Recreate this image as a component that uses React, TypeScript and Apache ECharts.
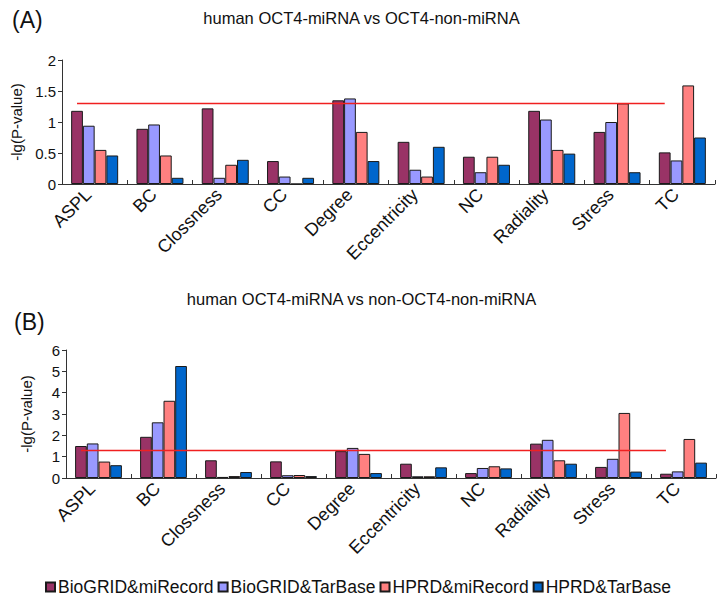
import React, { useEffect, useRef } from 'react';
import * as echarts from 'echarts';

const categories = ['ASPL', 'BC', 'Clossness', 'CC', 'Degree', 'Eccentricity', 'NC', 'Radiality', 'Stress', 'TC'];
const seriesNames = ['BioGRID&miRecord', 'BioGRID&TarBase', 'HPRD&miRecord', 'HPRD&TarBase'];
const seriesColors = ['#993366', '#9999FF', '#FF8080', '#0066CC'];

// Panel A: human OCT4-miRNA vs OCT4-non-miRNA
const aBioGRIDmiRecord = [1.18, 0.89, 1.22, 0.37, 1.35, 0.68, 0.44, 1.18, 0.84, 0.51];
const aBioGRIDTarBase = [0.94, 0.96, 0.10, 0.12, 1.38, 0.23, 0.19, 1.04, 1.00, 0.38];
const aHPRDmiRecord = [0.55, 0.46, 0.31, 0, 0.84, 0.12, 0.44, 0.55, 1.30, 1.59];
const aHPRDTarBase = [0.46, 0.10, 0.39, 0.10, 0.37, 0.60, 0.31, 0.49, 0.19, 0.75];

// Panel B: human OCT4-miRNA vs non-OCT4-non-miRNA
const bBioGRIDmiRecord = [1.50, 1.93, 0.83, 0.78, 1.26, 0.67, 0.23, 1.61, 0.52, 0.20];
const bBioGRIDTarBase = [1.62, 2.61, 0.05, 0.13, 1.41, 0.08, 0.47, 1.79, 0.90, 0.31];
const bHPRDmiRecord = [0.77, 3.62, 0.09, 0.14, 1.13, 0.08, 0.55, 0.83, 3.05, 1.83];
const bHPRDTarBase = [0.60, 5.25, 0.28, 0.09, 0.23, 0.50, 0.45, 0.67, 0.30, 0.72];

const threshold = 1.3;
const titleA = 'human OCT4-miRNA vs OCT4-non-miRNA';
const titleB = 'human OCT4-miRNA vs non-OCT4-non-miRNA';
const yAxisName = '-lg(P-value)';
const yAxisA = { min: 0, max: 2, interval: 0.5 };
const yAxisB = { min: 0, max: 6, interval: 1 };

const FONT = "'Liberation Sans', Arial, sans-serif";
const TXT = '#111';

export default function App() {
  const ref = useRef<HTMLDivElement>(null);

  useEffect(() => {
    if (!ref.current) return;
    const chart = echarts.init(ref.current, undefined, { renderer: 'svg' });

    const panelData = [
      [aBioGRIDmiRecord, aBioGRIDTarBase, aHPRDmiRecord, aHPRDTarBase],
      [bBioGRIDmiRecord, bBioGRIDTarBase, bHPRDmiRecord, bHPRDTarBase],
    ];

    const series: any[] = [];
    panelData.forEach((panel, g) => {
      panel.forEach((values, i) => {
        const s: any = {
          type: 'bar',
          name: seriesNames[i],
          xAxisIndex: g,
          yAxisIndex: g,
          data: values,
          barGap: '0%',
          barCategoryGap: '28%',
          itemStyle: { color: seriesColors[i], borderColor: '#1a1a1a', borderWidth: 1 },
          emphasis: { disabled: true },
        };
        if (i === 0) {
          s.markLine = {
            silent: true,
            symbol: 'none',
            z: 10,
            label: { show: false },
            lineStyle: { color: '#f02020', width: 1.4, type: 'solid' },
            data: [[{ coord: [0, threshold] }, { coord: [categories.length - 1, threshold] }]],
          };
        }
        series.push(s);
      });
    });

    const xAxisCommon = {
      type: 'category',
      data: categories,
      axisLine: { lineStyle: { color: '#333', width: 1 } },
      axisTick: { show: true, inside: true, length: 4, lineStyle: { color: '#333' } },
      axisLabel: {
        rotate: 45,
        fontSize: 18,
        color: TXT,
        fontFamily: FONT,
        margin: 14,
        interval: 0,
        align: 'right',
        verticalAlign: 'bottom',
      },
    };

    const yAxisCommon = {
      type: 'value',
      name: yAxisName,
      nameLocation: 'middle',
      nameRotate: 90,
      nameTextStyle: { fontSize: 15, color: TXT, fontFamily: FONT },
      axisLine: { show: true, lineStyle: { color: '#333', width: 1 } },
      axisTick: { show: true, inside: false, length: 4, lineStyle: { color: '#333' } },
      axisLabel: { fontSize: 15, color: TXT, fontFamily: FONT, margin: 6 },
      splitLine: { show: false },
    };

    chart.setOption({
      animation: false,
      backgroundColor: '#ffffff',
      title: [
        {
          text: titleA,
          left: 'center',
          top: 4,
          textStyle: { fontSize: 16.5, fontWeight: 'normal', color: TXT, fontFamily: FONT },
        },
        {
          text: titleB,
          left: 'center',
          top: 285,
          textStyle: { fontSize: 16.5, fontWeight: 'normal', color: TXT, fontFamily: FONT },
        },
      ],
      graphic: [
        { type: 'text', left: 12, top: 8, style: { text: '(A)', fontSize: 23, fill: TXT, fontFamily: FONT } },
        { type: 'text', left: 14, top: 310, style: { text: '(B)', fontSize: 23, fill: TXT, fontFamily: FONT } },
      ],
      legend: {
        data: seriesNames,
        left: 40,
        top: 573,
        icon: 'rect',
        itemWidth: 9,
        itemHeight: 9,
        itemGap: 4,
        textStyle: { fontSize: 17.5, color: TXT, fontFamily: FONT, padding: [0, 0, 0, -2] },
      },
      grid: [
        { left: 62, top: 60, width: 653, height: 124 },
        { left: 66, top: 350, width: 650, height: 128 },
      ],
      xAxis: [
        { ...xAxisCommon, gridIndex: 0 },
        { ...xAxisCommon, gridIndex: 1 },
      ],
      yAxis: [
        { ...yAxisCommon, gridIndex: 0, ...yAxisA, nameGap: 36 },
        { ...yAxisCommon, gridIndex: 1, ...yAxisB, nameGap: 32 },
      ],
      series,
    });

    return () => chart.dispose();
  }, []);

  return (
    <div
      ref={ref}
      style={{ position: 'absolute', left: 0, top: 0, width: 723, height: 602, background: '#fff' }}
    />
  );
}
